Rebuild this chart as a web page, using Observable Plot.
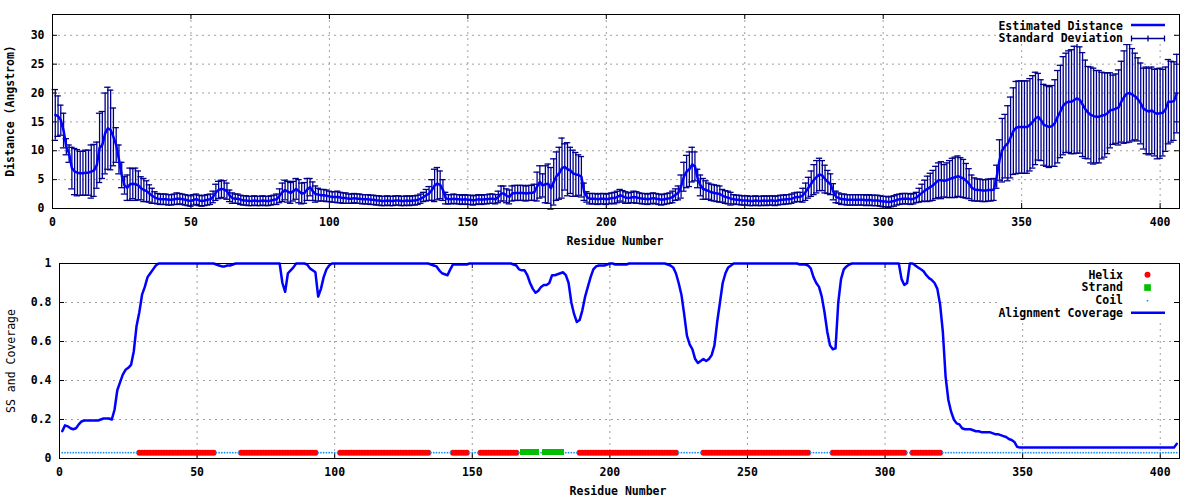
<!DOCTYPE html>
<html><head><meta charset="utf-8">
<script src="https://cdn.jsdelivr.net/npm/d3@7"></script>
<script src="https://cdn.jsdelivr.net/npm/@observablehq/plot@0.6"></script>
<style>
body{margin:0;background:#fff;}
#wrap{position:relative;width:1200px;height:500px;overflow:hidden;font-family:"DejaVu Sans Mono",monospace;font-weight:bold;font-size:11.5px;color:#000;background:#fff;}
.panel{position:absolute;left:0;width:1200px;height:250px;}
.lbl{position:absolute;white-space:nowrap;line-height:13px;}
.box{position:absolute;background:#fff;}
</style></head><body><div id="wrap"></div>
<script>
// ---------------- DATA ----------------
const xTicks = [0, 50, 100, 150, 200, 250, 300, 350, 400];
const distTicks = [0, 5, 10, 15, 20, 25, 30];
const covTicks = [0, 0.2, 0.4, 0.6, 0.8, 1];

// Estimated distance per residue (1..406)
const distMean = [
16.2,16.0,15.3,13.5,10.7,9.5,7.0,6.4,6.2,6.1,
6.1,6.2,6.2,6.4,6.6,7.5,10.5,11.0,13.0,13.9,
13.6,12.4,11.0,8.5,5.8,4.0,3.6,4.2,4.3,4.2,
4.0,3.5,3.2,3.0,2.6,2.2,1.9,1.7,1.6,1.6,
1.6,1.5,1.5,1.6,1.7,1.7,1.6,1.5,1.4,1.3,
1.5,1.6,1.4,1.3,1.4,1.5,1.6,2.0,2.8,3.2,
3.4,3.3,3.0,2.2,1.8,1.7,1.7,1.5,1.4,1.4,
1.3,1.3,1.4,1.3,1.3,1.4,1.3,1.3,1.4,1.5,
1.6,2.2,2.8,3.2,2.9,2.7,3.0,3.4,3.0,2.6,
2.7,3.3,3.7,3.0,2.5,2.4,2.3,2.3,2.2,2.1,
2.0,2.0,2.0,1.9,1.8,1.8,1.7,1.7,1.8,1.7,
1.7,1.6,1.6,1.6,1.5,1.5,1.4,1.4,1.3,1.3,
1.4,1.3,1.3,1.4,1.4,1.3,1.3,1.4,1.3,1.4,
1.4,1.5,1.7,2.0,2.3,2.6,3.2,4.0,4.3,4.1,
3.2,1.8,1.6,1.6,1.7,1.6,1.6,1.5,1.6,1.5,
1.5,1.4,1.5,1.6,1.5,1.6,1.6,1.7,1.7,1.6,
2.0,2.6,2.6,2.2,2.0,2.6,2.7,2.7,2.7,2.7,
2.6,2.7,2.7,2.8,3.8,4.6,4.0,4.2,4.3,3.5,
4.6,5.6,6.1,7.0,7.2,6.8,6.6,6.1,5.9,5.8,
5.5,2.9,2.0,1.7,1.7,1.7,1.6,1.7,1.7,1.6,
1.7,1.8,1.8,2.0,2.3,2.1,1.9,1.8,1.9,2.0,
1.9,1.8,1.7,1.7,1.6,1.7,1.8,1.7,1.6,1.5,
1.6,1.7,1.8,2.0,2.4,2.7,3.8,5.5,6.4,6.8,
7.6,7.3,5.2,4.0,3.4,3.2,3.0,2.8,2.7,2.6,
2.5,2.2,2.0,1.9,1.7,1.6,1.5,1.5,1.4,1.4,
1.4,1.3,1.3,1.4,1.3,1.3,1.4,1.3,1.4,1.4,
1.3,1.4,1.5,1.5,1.6,1.6,1.7,1.9,2.0,2.0,
2.3,2.9,3.6,4.3,5.0,5.5,5.9,5.7,5.1,4.6,
4.2,2.9,2.0,1.8,1.6,1.6,1.5,1.5,1.5,1.5,
1.5,1.5,1.5,1.4,1.5,1.4,1.4,1.4,1.3,1.2,
1.2,1.1,1.2,1.3,1.5,1.6,1.7,1.7,1.7,1.6,
1.7,1.9,2.3,2.7,3.1,3.4,3.7,4.0,4.5,4.9,
4.9,4.8,4.9,5.1,5.3,5.4,5.6,5.4,5.2,4.8,
4.3,3.6,3.3,3.2,3.2,3.1,3.1,3.2,3.2,3.3,
5.5,8.4,10.1,10.8,11.3,12.3,13.4,14.0,14.1,14.1,
14.1,14.1,14.5,15.0,15.6,15.9,15.3,14.5,14.3,14.1,
14.3,14.8,15.9,16.8,17.8,18.3,18.5,18.5,18.8,19.1,
18.8,18.0,17.2,16.6,16.2,16.0,15.9,15.9,16.1,16.2,
16.5,17.0,17.1,17.3,17.5,18.5,19.3,19.9,20.0,19.7,
19.4,18.9,18.2,17.3,17.0,16.8,17.0,16.6,16.4,16.5,
16.6,17.2,18.5,18.5,18.6,19.9
];

// Standard deviation per residue (1..406)
const distSD = [
4.4,3.5,2.6,3.0,1.4,1.5,3.6,4.0,4.0,3.8,
3.8,3.9,3.9,4.6,4.5,4.0,6.0,5.8,7.0,7.1,
6.9,5.0,3.0,2.5,2.2,1.5,2.2,2.8,2.6,2.8,
2.5,2.0,2.0,1.8,1.5,1.3,1.0,0.9,0.9,0.9,
0.9,0.9,0.9,0.9,1.0,0.9,0.9,0.9,0.9,0.9,
0.9,0.9,0.9,0.9,0.9,0.9,0.9,1.0,1.4,1.5,
1.5,1.5,1.4,1.0,0.9,0.8,0.8,0.8,0.8,0.8,
0.8,0.8,0.8,0.8,0.8,0.8,0.8,0.8,0.8,0.8,
0.9,1.2,1.6,1.7,1.8,1.8,1.7,1.8,2.0,1.8,
1.8,1.9,1.5,1.6,1.4,1.1,1.0,1.0,1.0,0.9,
0.9,0.9,1.0,0.9,0.9,0.9,0.8,0.8,0.8,0.8,
0.8,0.8,0.8,0.8,0.8,0.8,0.8,0.8,0.8,0.8,
0.8,0.8,0.8,0.8,0.8,0.8,0.8,0.8,0.8,0.8,
0.8,0.8,0.8,0.8,1.0,1.2,1.8,2.8,2.8,2.4,
1.8,1.0,0.8,0.8,0.8,0.8,0.8,0.8,0.8,0.8,
0.8,0.8,0.8,0.8,0.8,0.8,0.8,0.8,0.8,0.8,
1.0,1.3,1.3,1.2,1.2,1.3,1.3,1.3,1.3,1.3,
1.3,1.3,1.3,1.4,2.5,2.8,2.0,3.2,3.4,3.6,
4.0,4.2,4.5,5.2,4.0,4.6,4.0,4.0,3.8,3.5,
3.5,1.5,0.9,0.9,0.9,0.9,0.9,0.9,0.9,0.9,
0.9,0.9,1.0,1.0,1.0,1.0,1.0,0.9,0.9,1.0,
1.0,0.9,0.9,0.9,0.9,0.9,0.9,0.9,0.9,0.9,
0.9,0.9,0.9,1.0,1.0,1.2,2.0,2.5,2.8,3.0,
3.0,2.5,1.6,1.8,1.8,1.6,1.4,1.4,1.4,1.4,
1.4,1.1,1.1,1.1,1.1,0.8,0.8,0.8,0.8,0.8,
0.8,0.8,0.8,0.8,0.8,0.8,0.8,0.8,0.8,0.8,
0.8,0.8,0.8,0.8,0.8,0.8,0.8,0.8,0.8,0.8,
1.2,1.5,1.8,2.2,2.6,2.8,2.8,2.6,2.4,2.0,
1.8,1.4,1.0,0.9,0.9,0.9,0.9,0.9,0.9,0.9,
0.9,0.9,0.9,0.9,0.9,0.9,0.9,0.9,0.9,0.9,
0.9,0.9,0.9,0.9,0.9,0.9,0.9,0.9,0.9,0.9,
0.9,0.9,1.2,1.5,1.8,2.2,2.4,2.6,2.8,3.0,
3.2,2.8,3.0,3.2,3.4,3.5,3.5,3.4,3.3,3.0,
2.6,2.2,2.0,1.9,1.9,1.9,1.9,1.9,1.9,1.9,
2.0,3.5,5.5,5.5,6.5,7.0,7.5,8.0,8.0,8.0,
8.0,8.0,8.0,8.0,8.0,7.5,7.0,7.0,7.0,7.0,
7.0,7.5,8.0,8.0,8.5,8.6,8.8,9.0,9.3,9.5,
9.2,9.0,8.5,8.0,8.3,8.3,8.0,8.0,7.5,7.3,
7.0,6.5,6.0,6.0,6.5,7.0,8.0,8.5,8.5,8.0,
7.5,7.2,7.0,7.0,7.5,7.5,7.5,7.5,7.8,7.8,
7.5,7.3,7.3,7.0,6.8,6.8
];

// Alignment coverage per residue (1..406)
const coverage = [
0.14,0.17,0.165,0.155,0.15,0.155,0.175,0.19,0.195,0.195,
0.195,0.195,0.195,0.195,0.2,0.205,0.205,0.205,0.2,0.25,
0.35,0.39,0.43,0.455,0.465,0.48,0.55,0.68,0.75,0.84,
0.88,0.93,0.95,0.97,0.99,1,1,1,1,1,
1,1,1,1,1,1,1,1,1,1,
1,1,1,1,1,1,0.995,0.99,0.985,0.985,
0.99,0.99,0.995,1,1,1,1,1,1,1,
1,1,1,1,1,1,1,1,1,1,
0.9,0.855,0.95,0.965,0.98,1,1,1,1,0.995,
0.975,0.965,0.955,0.83,0.87,0.93,0.97,0.99,1,1,
1,1,1,1,1,1,1,1,1,1,
1,1,1,1,1,1,1,1,1,1,
1,1,1,1,1,1,1,1,1,1,
1,1,1,1,0.995,0.99,0.985,0.965,0.95,0.945,
0.94,0.97,0.995,0.995,0.995,0.995,0.995,0.995,1,1,
1,1,1,1,1,1,1,1,1,1,
1,1,1,1,0.995,0.99,0.97,0.965,0.965,0.94,
0.9,0.87,0.85,0.86,0.88,0.89,0.89,0.9,0.94,0.94,
0.945,0.95,0.955,0.94,0.9,0.8,0.74,0.7,0.71,0.76,
0.83,0.88,0.93,0.97,0.985,0.99,0.99,0.99,0.995,1,
1,0.995,0.995,0.995,0.995,0.995,1,1,1,1,
1,1,1,1,1,1,1,1,1,1,
0.995,0.99,0.98,0.95,0.9,0.84,0.74,0.63,0.585,0.56,
0.51,0.49,0.5,0.51,0.5,0.51,0.53,0.58,0.7,0.8,
0.9,0.95,0.98,0.99,1,1,1,1,1,1,
1,1,1,1,1,1,1,1,1,1,
1,1,1,1,1,1,1,1,0.995,0.995,
0.995,0.99,0.975,0.93,0.9,0.88,0.83,0.75,0.65,0.58,
0.56,0.565,0.8,0.92,0.97,0.985,0.995,1,1,1,
1,1,1,1,1,1,1,1,1,1,
1,1,1,1,1,0.92,0.89,0.9,1,1,
0.99,0.98,0.97,0.96,0.94,0.925,0.915,0.9,0.87,0.79,
0.65,0.42,0.3,0.24,0.2,0.18,0.175,0.155,0.15,0.15,
0.15,0.145,0.14,0.14,0.135,0.135,0.135,0.135,0.13,0.125,
0.125,0.12,0.115,0.11,0.1,0.095,0.085,0.06,0.056,0.056,
0.056,0.056,0.056,0.056,0.056,0.056,0.056,0.056,0.056,0.056,
0.056,0.056,0.056,0.056,0.056,0.056,0.056,0.056,0.056,0.056,
0.056,0.056,0.056,0.056,0.056,0.056,0.056,0.056,0.056,0.056,
0.056,0.056,0.056,0.056,0.056,0.056,0.056,0.056,0.056,0.056,
0.056,0.056,0.056,0.056,0.056,0.056,0.056,0.056,0.056,0.056,
0.056,0.056,0.056,0.056,0.056,0.075
];

// Secondary structure segments (residue ranges); everything else is coil
const helixSegments = [[29,56],[66,93],[102,134],[143,148],[153,166],[189,224],[234,272],[281,307],[310,320]];
const strandSegments = [[168,174],[176,183]];
const ssLevel = 0.03;

// ---------------- BUILD ----------------
const W = 1200, H = 250;
const residues = d3.range(1, distMean.length + 1);
const distRows = residues.map((r, i) => ({r, m: distMean[i], s: distSD[i]}));
const covRows = residues.map((r, i) => ({r, v: coverage[i]}));
const inSeg = (segs, r) => segs.some(([a, b]) => r >= a && r <= b);
const helix = residues.filter(r => inSeg(helixSegments, r));
const strand = residues.filter(r => inSeg(strandSegments, r));
const coil = residues.filter(r => !inSeg(helixSegments, r) && !inSeg(strandSegments, r));

const grid = {stroke: "#a0a0a0", strokeDasharray: "2,4", strokeWidth: 1};
const font = {fontFamily: "DejaVu Sans Mono", fontSize: "11.5px", fontWeight: "bold", background: "transparent", overflow: "visible"};

function frameMarks(xt, yt, m, ymax) {
  const ih = H - m.t - m.b, iw = W - m.l - m.r, L = 5;
  const xi = xt.filter(d => d > 0), yi = yt.filter(d => d > 0 && d < ymax);
  return [
    Plot.ruleX(xi, {x: d => d, ...grid}),
    Plot.ruleY(yi, {y: d => d, ...grid}),
    Plot.tickX(xi, {x: d => d, insetTop: ih - L, stroke: "#000"}),
    Plot.tickX(xi, {x: d => d, insetBottom: ih - L, stroke: "#000"}),
    Plot.tickY(yi, {y: d => d, insetRight: iw - L, stroke: "#000"}),
    Plot.tickY(yi, {y: d => d, insetLeft: iw - L, stroke: "#000"})
  ];
}

const mTop = {l: 52, r: 21, t: 14, b: 42};
const yTopMax = 33.6;
const topPlot = Plot.plot({
  width: W, height: H,
  marginLeft: mTop.l, marginRight: mTop.r, marginTop: mTop.t, marginBottom: mTop.b,
  style: font,
  x: {domain: [0, 407], ticks: xTicks, tickSize: 0, tickPadding: 9, label: null, tickFormat: d => String(d)},
  y: {domain: [0, yTopMax], ticks: distTicks, tickSize: 0, tickPadding: 8, label: null, tickFormat: d => String(d)},
  marks: [
    ...frameMarks(xTicks, distTicks, mTop, yTopMax),
    Plot.ruleX(distRows, {x: "r", y1: d => d.m - d.s, y2: d => d.m + d.s, stroke: "#00008b", strokeWidth: 1.3}),
    Plot.ruleY(distRows, {y: d => d.m - d.s, x1: d => d.r - 1.15, x2: d => d.r + 1.15, stroke: "#00008b", strokeWidth: 1.3}),
    Plot.ruleY(distRows, {y: d => d.m + d.s, x1: d => d.r - 1.15, x2: d => d.r + 1.15, stroke: "#00008b", strokeWidth: 1.3}),
    Plot.line(distRows, {x: "r", y: "m", stroke: "#0000ff", strokeWidth: 2.5}),
    Plot.frame({stroke: "#000"})
  ]
});

const mBot = {l: 59, r: 21, t: 13, b: 42};
const botPlot = Plot.plot({
  width: W, height: H,
  marginLeft: mBot.l, marginRight: mBot.r, marginTop: mBot.t, marginBottom: mBot.b,
  style: font,
  x: {domain: [0, 407], ticks: xTicks, tickSize: 0, tickPadding: 9, label: null, tickFormat: d => String(d)},
  y: {domain: [0, 1], ticks: covTicks, tickSize: 0, tickPadding: 8, label: null, tickFormat: d => String(+d.toFixed(1))},
  marks: [
    ...frameMarks(xTicks, covTicks, mBot, 1),
    Plot.dot(helix, {x: d => d, y: () => ssLevel, r: 3, fill: "#ff0000", stroke: null}),
    Plot.rect(strand, {x1: d => d - 0.6, x2: d => d + 0.6, y1: () => ssLevel - 0.017, y2: () => ssLevel + 0.017, fill: "#00c000", shapeRendering: "crispEdges"}),
    Plot.dot(coil, {x: d => d, y: () => ssLevel, r: 0.9, fill: "#1e90ff", stroke: null}),
    Plot.line(covRows, {x: "r", y: "v", stroke: "#0000ff", strokeWidth: 2.5}),
    Plot.frame({stroke: "#000"})
  ]
});

// ---------------- LAYOUT ----------------
const wrap = document.getElementById("wrap");
function panel(svg, top) {
  const d = document.createElement("div");
  d.className = "panel"; d.style.top = top + "px";
  d.appendChild(svg); wrap.appendChild(d);
}
panel(topPlot, 0);
panel(botPlot, 250);

function addDiv(cls, css, text) {
  const d = document.createElement("div");
  d.className = cls; Object.assign(d.style, css);
  if (text != null) d.textContent = text;
  wrap.appendChild(d); return d;
}
// axis titles
addDiv("lbl", {left: "615px", top: "241px", transform: "translate(-50%,-50%)"}, "Residue Number");
addDiv("lbl", {left: "618px", top: "491px", transform: "translate(-50%,-50%)"}, "Residue Number");
addDiv("lbl", {left: "10px", top: "111px", transform: "translate(-50%,-50%) rotate(-90deg)"}, "Distance (Angstrom)");
addDiv("lbl", {left: "11px", top: "361px", transform: "translate(-50%,-50%) rotate(-90deg)", fontWeight: "normal"}, "SS and Coverage");

// legend boxes (opaque)
addDiv("box", {left: "997px", top: "15px", width: "175px", height: "29px"});
addDiv("box", {left: "998px", top: "264px", width: "174px", height: "56px"});

// legend texts (right aligned at x=1123)
const legendTexts = [
  ["Estimated Distance", 26], ["Standard Deviation", 38.7],
  ["Helix", 275], ["Strand", 287.7], ["Coil", 300.7], ["Alignment Coverage", 313.3]
];
legendTexts.forEach(([t, cy]) => addDiv("lbl", {right: (1200 - 1123) + "px", top: (cy - 6.5) + "px", textAlign: "right"}, t));

// legend symbols
const ns = "http://www.w3.org/2000/svg";
const sym = document.createElementNS(ns, "svg");
sym.setAttribute("width", 1200); sym.setAttribute("height", 500);
Object.assign(sym.style, {position: "absolute", left: "0", top: "0", pointerEvents: "none"});
function el(tag, attrs) { const e = document.createElementNS(ns, tag); for (const k in attrs) e.setAttribute(k, attrs[k]); sym.appendChild(e); }
el("line", {x1: 1131, x2: 1165, y1: 25, y2: 25, stroke: "#0000ff", "stroke-width": 2.5});
el("line", {x1: 1131, x2: 1165, y1: 38.5, y2: 38.5, stroke: "#00008b", "stroke-width": 1.3});
[1131.5, 1148, 1164.5].forEach(x => el("line", {x1: x, x2: x, y1: 35.5, y2: 41.5, stroke: "#00008b", "stroke-width": 1.3}));
el("circle", {cx: 1147.5, cy: 274.7, r: 3, fill: "#ff0000"});
el("rect", {x: 1144.2, y: 284.2, width: 6.7, height: 6.7, fill: "#00c000"});
el("circle", {cx: 1147.5, cy: 300.7, r: 0.9, fill: "#1e90ff"});
el("line", {x1: 1131, x2: 1165, y1: 312.7, y2: 312.7, stroke: "#0000ff", "stroke-width": 2.5});
wrap.appendChild(sym);
</script></body></html>
